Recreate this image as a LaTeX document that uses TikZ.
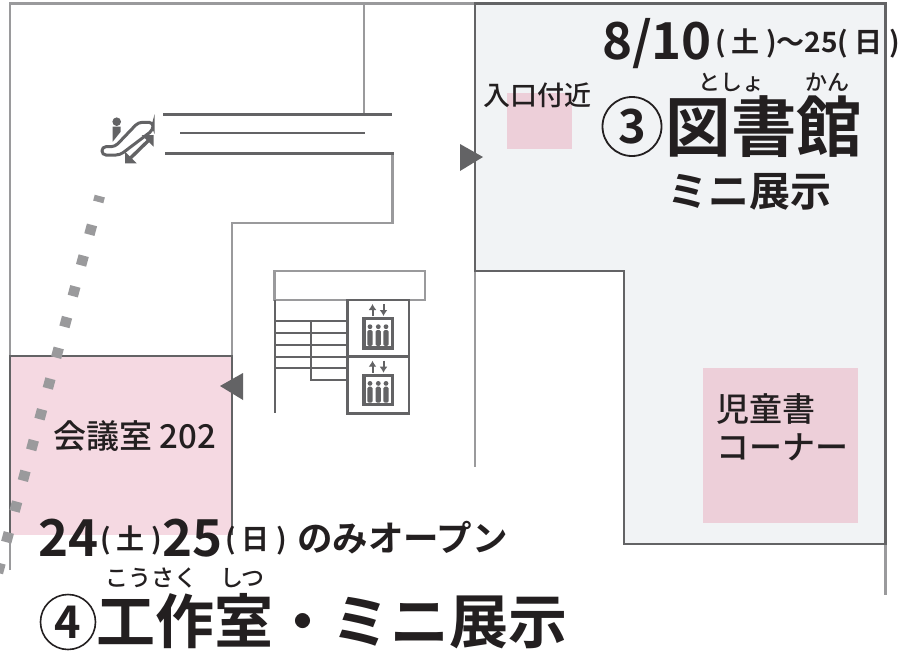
\documentclass[tikz,border=0pt]{standalone}
\usepackage{fontspec}
\setmainfont{Noto Sans CJK JP Medium}[BoldFont={Noto Sans CJK JP Bold}]
\usetikzlibrary{arrows.meta}
\definecolor{wallA}{HTML}{9A9A9C}
\definecolor{wallB}{HTML}{636365}
\definecolor{roomG}{HTML}{F1F3F5}
\definecolor{pinkA}{HTML}{F5D9E2}
\definecolor{pinkB}{HTML}{EDCFD9}
\definecolor{inkK}{HTML}{231F20}
\tikzset{x=1pt,y=-1pt,
 wallL/.style={draw=wallA,line width=2.8pt},
 wallD/.style={draw=wallB,line width=2.8pt},
 txt/.style={text=inkK,inner sep=0pt,outer sep=0pt,anchor=base west},
 tri/.style={fill=wallB,draw=none}}
\newcommand{\elev}[2]{%
 \begin{scope}[shift={(#1,#2)}]
 \draw[wallB,line width=3.2pt] (16.5,17.5) rectangle (45,47);
 \draw[wallB,line width=2pt,-{Latex[length=6pt,width=8pt]}] (25,15) -- (25,3);
 \draw[wallB,line width=2pt,-{Latex[length=6pt,width=8pt]}] (36,3) -- (36,15);
 \foreach \px in {22.5,30.8,38.5}{
  \fill[wallB] (\px,25.7) circle (2.4);
  \fill[wallB,rounded corners=1.5pt] (\px-2.6,29) rectangle (\px+2.6,45);
 }
 \end{scope}}
\begin{document}
\begin{tikzpicture}
\useasboundingbox (0,0) rectangle (906,651);
\fill[white] (0,0) rectangle (906,651);
% library room
\path[fill=roomG] (475,3.5) -- (885.5,3.5) -- (885.5,544) -- (624,544) -- (624,271) -- (475,271) -- cycle;
\fill[pinkB] (507,93) rectangle (572,149);
\fill[pinkB] (703,368) rectangle (858,523);
\fill[pinkA] (10,356) rectangle (232,535);
% walls
\draw[wallL] (10,570) -- (10,3.5) -- (475,3.5);
\draw[wallL] (364,3.5) -- (364,114);
\draw[wallL] (392.5,153) -- (392.5,223) -- (232,223) -- (232,356);
\draw[wallL] (475,271) -- (475,467);
\draw[wallL] (885.5,544) -- (885.5,595);
\draw[wallD] (475,3.5) -- (885.5,3.5) -- (885.5,544) -- (624,544) -- (624,271) -- (475,271) -- cycle;
\draw[wallD] (10,535) -- (10,356) -- (232,356) -- (232,535);
% escalator lines
\draw[wallD] (163,114.5) -- (392,114.5);
\draw[wallD,line width=2.2pt] (180,133) -- (365,133);
\draw[wallD] (165,153.5) -- (394,153.5);
% escalator icon
\fill[wallB] (116.7,121.7) circle (4.3);
\fill[wallB] (112.7,126.7) -- (120.7,126.7) -- (120.7,131.7) -- (112.7,141.7) -- cycle;
\draw[wallB,line width=3pt,rounded corners=4pt] (138.3,122.3) -- (153,122.3) -- (153,130) -- (120,155) -- (102,155) -- (102,146.7) -- (115,146.7) -- cycle;
\draw[wallB,line width=3.4pt] (130,158.5) -- (149,140);
\fill[wallB] (153.5,135) -- (141.7,135) -- (153.5,146.7) -- cycle;
\fill[wallB] (125,163.3) -- (136.7,163.3) -- (125,151.7) -- cycle;
% dotted path
\draw[draw=wallA,line width=10.5pt,dash pattern=on 6pt off 23.86pt on 10pt off 21.86pt on 10pt off 21.86pt on 10pt off 21.86pt on 10pt off 21.86pt on 10pt off 21.86pt on 10pt off 21.86pt on 10pt off 21.86pt on 10pt off 21.86pt on 10pt off 21.86pt on 10pt off 21.86pt on 10pt off 21.86pt on 10pt off 21.86pt] (99.8,196.1) -- (-4,580);
% triangles
\fill[tri] (483,157) -- (460,144) -- (460,171) -- cycle;
\fill[tri] (220,386) -- (243,373) -- (243,400) -- cycle;
% stairs
\draw[wallL] (274.5,271) rectangle (425,300);
\draw[wallB,line width=2.2pt] (275,300) -- (275,413);
\foreach \yy in {321,333,345,357,368}{\draw[wallB,line width=1.2pt] (275,\yy) -- (347,\yy);}
\draw[wallB,line width=1.2pt] (311,321) -- (311,380) -- (347,380);
\draw[wallB,line width=2.6pt] (347.5,300) rectangle (409,356.5);
\draw[wallB,line width=2.6pt] (347.5,356.5) rectangle (409,413.5);
\elev{347.5}{301}
\elev{347.5}{357.7}
% texts
\node[txt,font=\bfseries\fontsize{51}{51}\selectfont] (d1) at (602,59) {8/10};
\node[txt,font=\bfseries\fontsize{28}{28}\selectfont] (d2) at (715,52) {( 土 )〜25( 日 )};
\node[txt,font=\fontsize{22}{22}\selectfont] (r1) at (698,90) {としょ};
\node[txt,font=\fontsize{22}{22}\selectfont] (r2) at (805,90) {かん};
\node[txt,font=\fontsize{27}{27}\selectfont] (en) at (483.5,105) {入口付近};
\node[draw=inkK,line width=1.8pt,circle,minimum size=59pt,inner sep=0pt] (c3) at (632,126.5) {};
\node[text=inkK,inner sep=0pt,font=\bfseries\fontsize{47}{47}\selectfont] at (c3) {3};
\node[txt,font=\bfseries\fontsize{65.5}{65.5}\selectfont] (lib) at (665.5,151) {図書館};
\node[txt,font=\bfseries\fontsize{41}{41}\selectfont] (mini1) at (667,206) {ミニ展示};
\node[txt,font=\fontsize{33}{33}\selectfont] (kids1) at (716,421) {児童書};
\node[txt,font=\fontsize{33}{33}\selectfont] (kids2) at (716,459) {コーナー};
\node[txt,font=\fontsize{33}{33}\selectfont] (room) at (53,448) {会議室 202};
\node[txt,font=\bfseries\fontsize{51}{51}\selectfont] (a1) at (38,556) {24};
\node[txt,font=\bfseries\fontsize{28}{28}\selectfont] (a2) at (100,549) {( 土 )};
\node[txt,font=\bfseries\fontsize{51}{51}\selectfont] (a3) at (162,556) {25};
\node[txt,font=\bfseries\fontsize{28}{28}\selectfont] (a4) at (225,549) {( 日 )};
\node[txt,font=\bfseries\fontsize{35.5}{35.5}\selectfont] (a5) at (297,551) {のみオープン};
\node[txt,font=\fontsize{23}{23}\selectfont] (r3) at (105,586) {こうさく};
\node[txt,font=\fontsize{23}{23}\selectfont] (r4) at (220,586) {しつ};
\node[draw=inkK,line width=1.6pt,circle,minimum size=55pt,inner sep=0pt] (c4) at (68,622) {};
\node[text=inkK,inner sep=0pt,font=\bfseries\fontsize{45}{45}\selectfont] at (c4) {4};
\node[txt,font=\bfseries\fontsize{59}{59}\selectfont] (wk) at (96,643) {工作室・ミニ展示};
\end{tikzpicture}
\end{document}
